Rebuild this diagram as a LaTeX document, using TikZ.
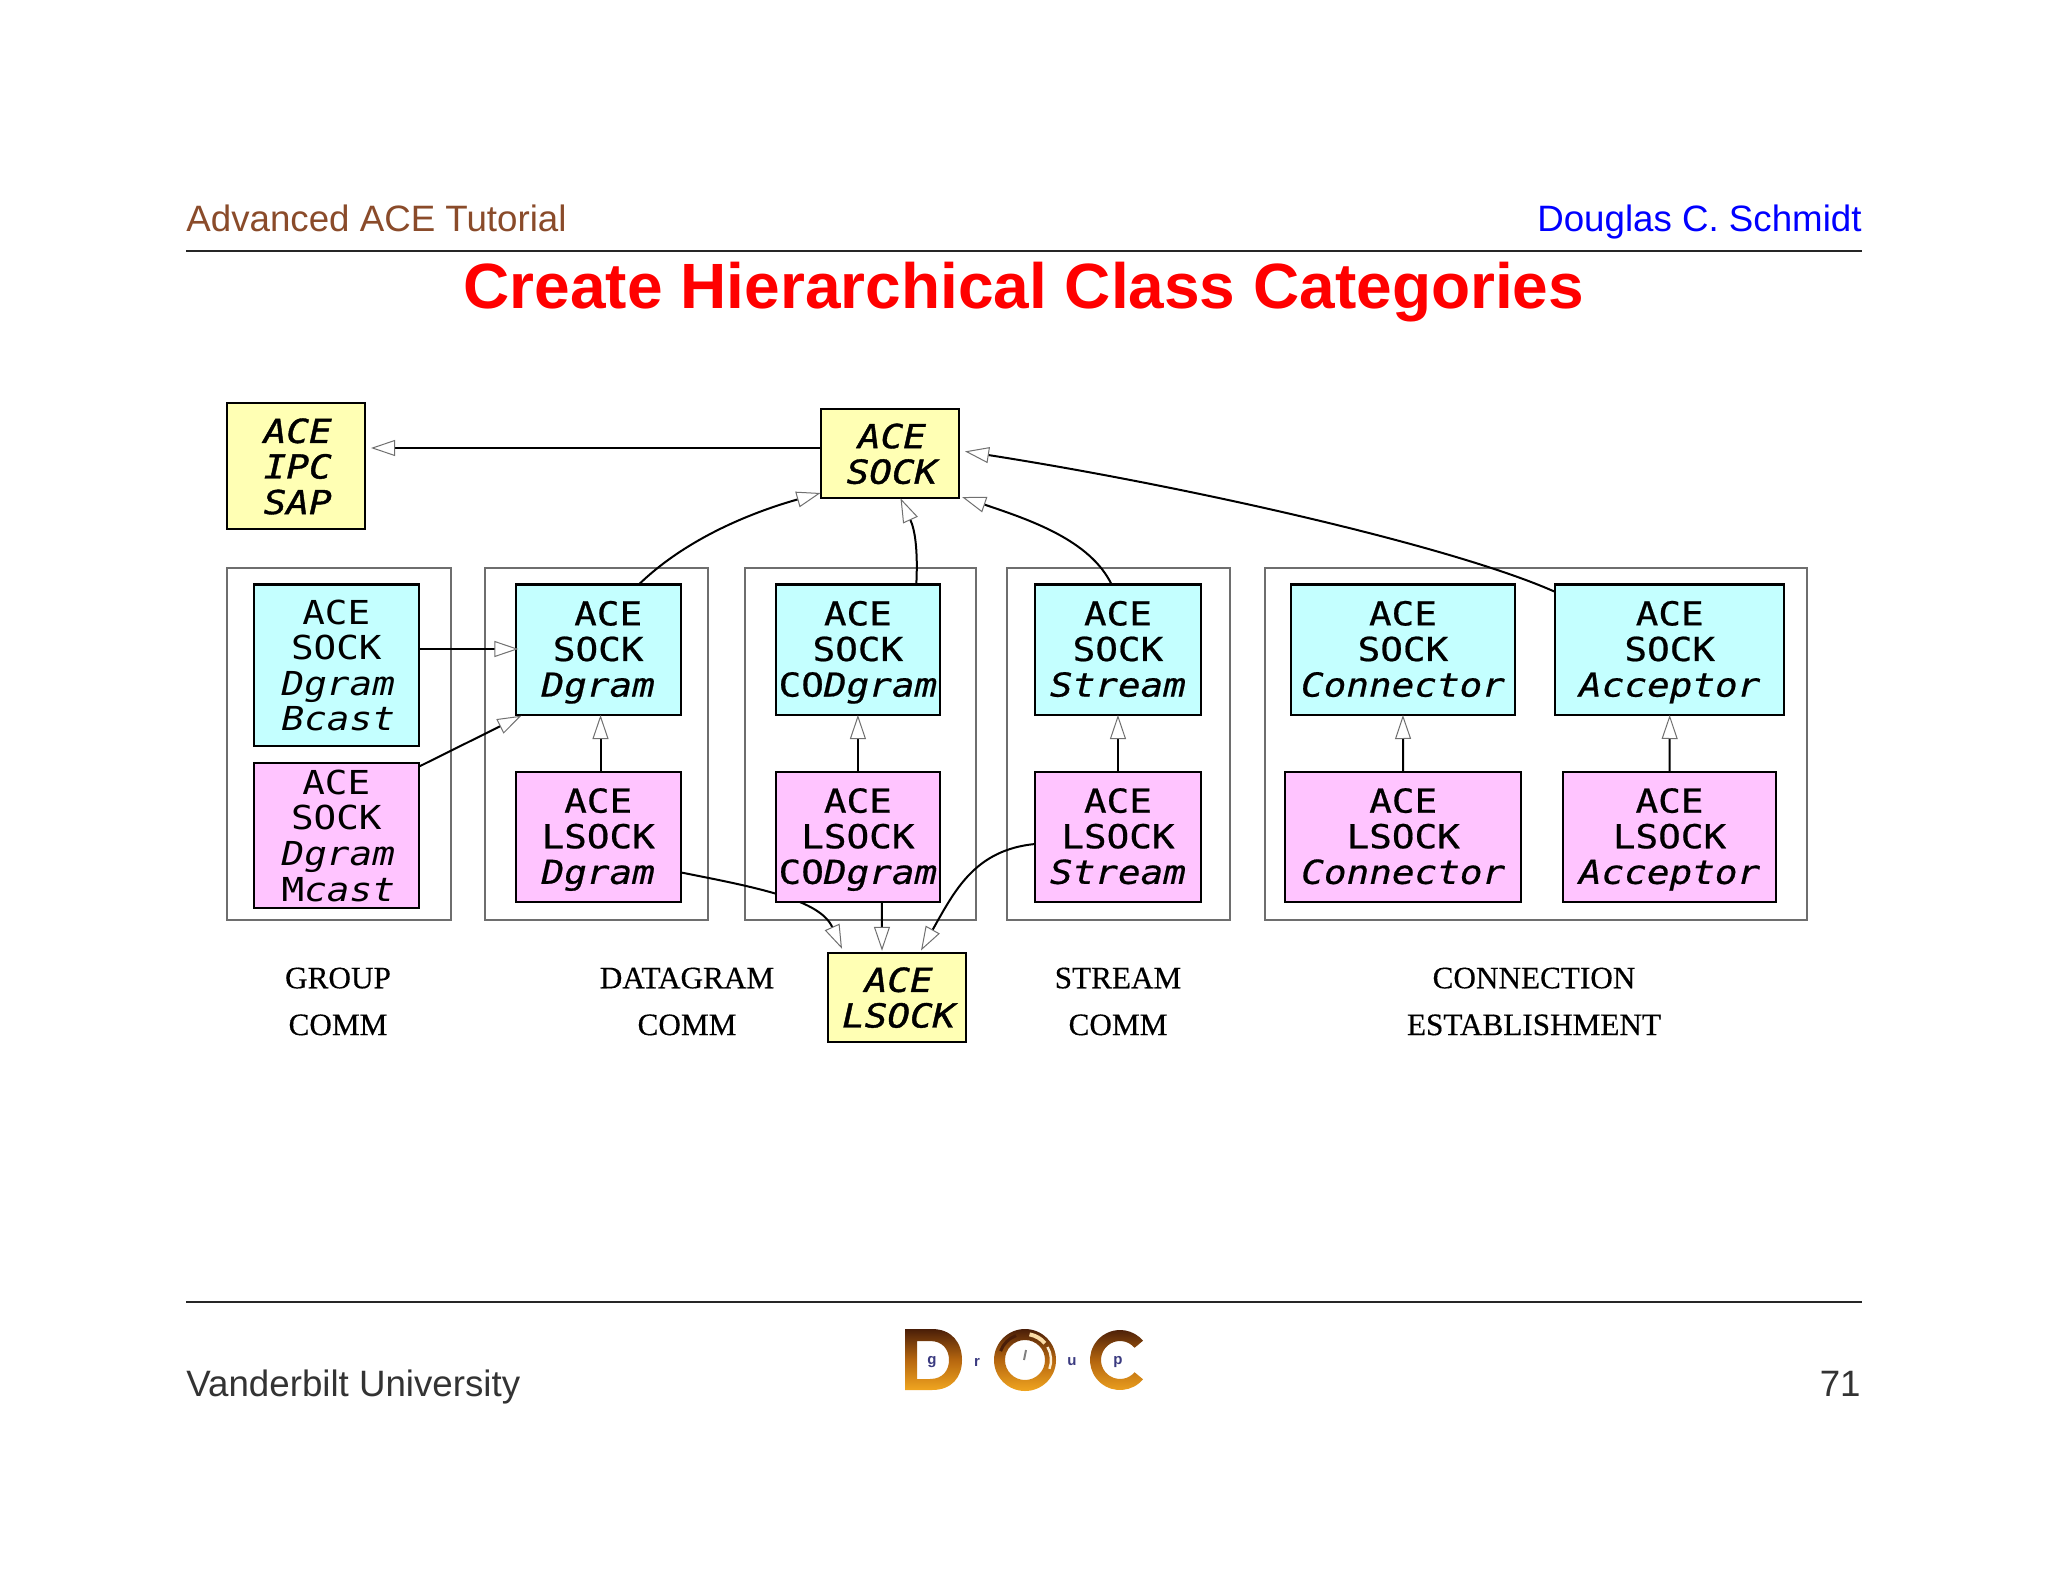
\documentclass[tikz,border=0pt]{standalone}
\usepackage{fontspec}
\usetikzlibrary{arrows.meta,calc}
\setmainfont{Liberation Sans}
\newfontfamily\serifl[FakeBold=0.4]{Liberation Serif}
\newfontfamily\monol[FakeStretch=1.14]{DejaVu Sans Mono}
\newfontfamily\monom[FakeStretch=1.14,FakeBold=0.6]{DejaVu Sans Mono}
\newfontfamily\monoh[FakeStretch=1.14,FakeBold=1.2]{DejaVu Sans Mono}
\definecolor{hdrbrown}{HTML}{8A4B2A}
\definecolor{boxyellow}{HTML}{FFFFB4}
\definecolor{boxcyan}{HTML}{C4FFFF}
\definecolor{boxpink}{HTML}{FFC4FF}
\definecolor{framegray}{HTML}{6E6E6E}
\definecolor{tipgray}{HTML}{707070}
\definecolor{logoblue}{HTML}{3A3A80}
\definecolor{logotop}{HTML}{4A1E08}
\definecolor{logomid}{HTML}{B5660F}
\definecolor{logobot}{HTML}{F0A520}
\pgfdeclarelayer{bgl}
\pgfdeclarelayer{frames}
\pgfdeclarelayer{mid}
\pgfsetlayers{bgl,frames,mid,main}
\tikzset{
  cls/.style={draw=black,line width=1pt,inner sep=0pt,outer sep=0pt,align=center,text depth=0pt},
  clsy/.style={cls,fill=boxyellow,font=\monoh\fontsize{16.5}{17.8}\selectfont},
  clsc/.style={cls,text depth=1pt,fill=boxcyan,font=\monom\fontsize{16.5}{17.8}\selectfont},
  clsp/.style={cls,text depth=1pt,fill=boxpink,font=\monom\fontsize{16.5}{17.8}\selectfont},
  clscl/.style={cls,fill=boxcyan,font=\monol\fontsize{16.5}{17.8}\selectfont},
  clspl/.style={cls,fill=boxpink,font=\monol\fontsize{16.5}{17.8}\selectfont},
  grp/.style={draw=framegray,line width=1pt,inner sep=0pt,outer sep=0pt},
  inh/.style={draw=black,line width=1pt,-{Triangle[length=12pt,width=8pt,fill=white,color=tipgray,line width=.5pt]}},
  cat/.style={font=\serifl\fontsize{15.6}{23.4}\selectfont,align=center,inner sep=0pt},
  hdr/.style={font=\fontsize{18.35}{22}\selectfont,anchor=base,inner sep=0pt},
  rulel/.style={draw=black!85,line width=1pt},
  logoshade/.style={even odd rule,top color=logotop,bottom color=logobot,middle color=logomid},
  logoletter/.style={font=\bfseries\fontsize{7.5}{8}\selectfont,text=logoblue,inner sep=0pt},
}
\newcommand{\bx}[7]{\node[#6,minimum width={(#4-#2)*0.5pt},minimum height={(#5-#3)*0.5pt}] (#1) at ({(#2+#4)/2},{(#3+#5)/2}) {#7};}
\begin{document}
\begin{tikzpicture}[x=0.5pt,y=-0.5pt]
\begin{pgfonlayer}{bgl}
\fill[white] (0,0) rectangle (2048,1582);
\end{pgfonlayer}
\useasboundingbox (0,0) rectangle (2048,1582);

% header and footer
\node[hdr,text=hdrbrown,anchor=base west] (hl) at (186,231.5) {Advanced ACE Tutorial};
\node[hdr,text=blue,anchor=base east] (hr) at (1862,231.5) {Douglas C. Schmidt};
\coordinate (r1a) at (186,251); \coordinate (r1b) at (1862,251);
\draw[rulel] (r1a) -- (r1b);
\node[font=\bfseries\fontsize{32}{36}\selectfont,text=red,anchor=base,inner sep=0pt] (title) at (1024,309) {Create Hierarchical Class Categories};
\coordinate (r2a) at (186,1301.5); \coordinate (r2b) at (1862,1301.5);
\draw[rulel] (r2a) -- (r2b);
\node[hdr,text=black!80,anchor=base west] (fl) at (186,1396) {Vanderbilt University};
\node[hdr,text=black!80,anchor=base east] (fr) at (1861,1396) {71};

% frames
\begin{pgfonlayer}{frames}
\bx{fGroup}{226.5}{568}{451}{920}{grp}{}
\bx{fDgram}{484.5}{568}{708}{920}{grp}{}
\bx{fCO}{744.5}{568}{975.5}{920}{grp}{}
\bx{fStream}{1006.8}{568}{1229.6}{920}{grp}{}
\bx{fConn}{1264.5}{568}{1807}{920}{grp}{}
\end{pgfonlayer}

% classes
\bx{ipc}{226.5}{403.5}{365}{529}{clsy}{\itshape \hspace*{2pt}ACE\\\itshape \hspace*{2pt}IPC\\\itshape \hspace*{2pt}SAP}
\bx{aceSock}{821}{409}{959}{498.3}{clsy}{\itshape \hspace*{2pt}ACE\\\itshape \hspace*{2pt}SOCK}
\bx{aceLsock}{827.5}{952.8}{966}{1042}{clsy}{\itshape \hspace*{2pt}ACE\\\itshape \hspace*{2pt}LSOCK}

\bx{bcast}{253.6}{584.5}{419}{746}{clscl}{ACE\\SOCK\\\itshape \hspace*{2pt}Dgram\\\itshape \hspace*{2pt}Bcast}
\bx{mcast}{253.6}{763}{419}{908}{clspl}{ACE\\SOCK\\\itshape \hspace*{2pt}Dgram\\\hspace*{2pt}M\textit{cast}}
\bx{sockDgram}{515.8}{584.5}{680.6}{715}{clsc}{\hspace*{10pt}ACE\\SOCK\\\itshape Dgram}
\bx{lsockDgram}{515.8}{772}{680.6}{902}{clsp}{ACE\\LSOCK\\\itshape Dgram}
\bx{sockCO}{775.5}{584.5}{940.3}{715}{clsc}{ACE\\SOCK\\CO\textit{Dgram}}
\bx{lsockCO}{775.5}{772}{940.3}{902}{clsp}{ACE\\LSOCK\\CO\textit{Dgram}}
\bx{sockStream}{1035.4}{584.5}{1200.5}{715}{clsc}{ACE\\SOCK\\\itshape Stream}
\bx{lsockStream}{1035.4}{772}{1200.5}{902}{clsp}{ACE\\LSOCK\\\itshape Stream}
\bx{sockConn}{1290.5}{584.5}{1515.4}{715}{clsc}{ACE\\SOCK\\\itshape Connector}
\bx{lsockConn}{1285}{772}{1521.4}{902}{clsp}{ACE\\LSOCK\\\itshape Connector}
\bx{sockAcc}{1555.4}{584.5}{1784}{715}{clsc}{ACE\\SOCK\\\itshape Acceptor}
\bx{lsockAcc}{1563}{772}{1776}{902}{clsp}{ACE\\LSOCK\\\itshape Acceptor}

% category labels
\node[cat] (lGroup) at (338,1001.5) {GROUP\\COMM};
\node[cat] (lDgram) at (687,1001.5) {DATAGRAM\\COMM};
\node[cat] (lStream) at (1118,1001.5) {STREAM\\COMM};
\node[cat] (lConn) at (1534,1001.5) {CONNECTION\\ESTABLISHMENT};

% connectors
\draw[inh] ($(aceSock.north west)+(0,39)$) -- ($(ipc.north east)+(6,44.5)$);
\draw[inh] ($(sockAcc.north west)+(0,7.5)$) .. controls (1450,545) and (1180,485) .. ($(aceSock.north east)+(6,42.4)$);
\draw[inh] ($(sockStream.north west)+(76.2,0)$) .. controls (1090,540) and (1030,520) .. ($(aceSock.south east)+(3,-1.3)$);
\draw[inh] ($(sockCO.north west)+(140.8,0)$) .. controls (918,550) and (915,530) .. ($(aceSock.south west)+(79.5,0)$);
\draw[inh] ($(sockDgram.north west)+(123,0)$) .. controls (690,535) and (760,510) .. ($(aceSock.south west)+(-.5,-5.3)$);
\draw[inh] ($(bcast.north east)+(0,64.5)$) -- ($(sockDgram.north west)+(2.6,64.5)$);
\draw[inh] ($(mcast.north east)+(0,3.6)$) -- ($(sockDgram.south west)+(5.6,.7)$);
\draw[inh] ($(lsockDgram.north)+(2.3,0)$) -- ($(sockDgram.south)+(2.3,0)$);
\draw[inh] (lsockCO.north) -- (sockCO.south);
\draw[inh] (lsockStream.north) -- (sockStream.south);
\draw[inh] (lsockConn.north) -- (sockConn.south);
\draw[inh] (lsockAcc.north) -- (sockAcc.south);
\begin{pgfonlayer}{mid}
\draw[inh] ($(lsockDgram.north east)+(0,100.4)$) .. controls (760,888) and (820,900) .. ($(aceLsock.north west)+(14.5,-4)$);
\end{pgfonlayer}
\draw[inh] ($(lsockCO.south)+(24,0)$) -- ($(aceLsock.north west)+(54.5,-2)$);
\draw[inh] ($(lsockStream.north west)+(-.5,72)$) .. controls (975,850) and (955,890) .. ($(aceLsock.north west)+(93.5,-2.3)$);

% DOC group logo
\shade[logoshade] (905,1329) -- (932,1329) .. controls (952,1329) and (962,1343) .. (962,1360) .. controls (962,1377) and (952,1390) .. (932,1390) -- (905,1390) -- cycle
  (917,1341) -- (930,1341) .. controls (943,1341) and (949,1350) .. (949,1360) .. controls (949,1370) and (943,1379) .. (930,1379) -- (917,1379) -- cycle;
\shade[logoshade] (1025,1360) circle [radius=31] (1025,1360) circle [radius=20];
\draw[logotop,line width=1.5pt] (1025,1360) ++(200:26) arc[start angle=200,end angle=250,radius=26];
\draw[white!60!logobot,line width=2pt] (1025,1360) ++(-80:26) arc[start angle=-80,end angle=-40,radius=26];
\draw[white!80!logobot,line width=1.2pt] (1025,1360) ++(-30:26) arc[start angle=-30,end angle=20,radius=26];
\shade[logoshade] ($(1120,1360)+(40:30)$) arc[start angle=40,end angle=320,radius=30] -- ($(1120,1360)+(320:19)$) arc[start angle=320,end angle=40,radius=19] -- cycle;
\node[logoletter] (lg) at (932,1362) {g};
\node[logoletter] (lr) at (977,1362) {r};
\node[logoletter] (lu) at (1072,1362) {u};
\node[logoletter] (lp) at (1118,1362) {p};
\draw[gray,line width=1pt] (1026,1350) -- (1024,1360);
\end{tikzpicture}
\end{document}
